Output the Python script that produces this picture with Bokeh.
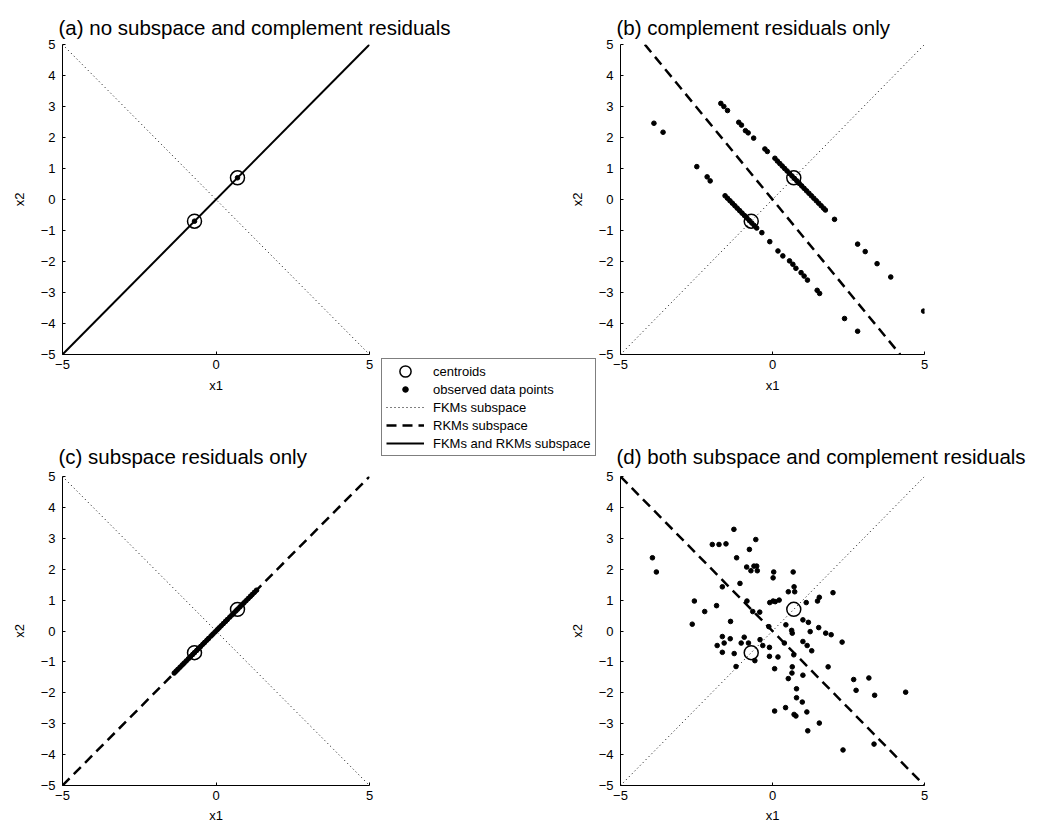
from bokeh.plotting import figure
from bokeh.models import FixedTicker, Range1d, Legend, LegendItem, GridBox
from bokeh.embed import file_html
from bokeh.resources import INLINE

FONT = "Liberation Sans"

# ---------------- data ----------------
y_ticks = [-5, -4, -3, -2, -1, 0, 1, 2, 3, 4, 5]
x_ticks = [-5, 0, 5]
tick_text = {-5: "\u22125", -4: "\u22124", -3: "\u22123", -2: "\u22122", -1: "\u22121",
             0: "0", 1: "1", 2: "2", 3: "3", 4: "4", 5: "5"}

titles = ["(a) no subspace and complement residuals",
          "(b) complement residuals only",
          "(c) subspace residuals only",
          "(d) both subspace and complement residuals"]

# centroids (same in all panels)
cent_x = [-0.7, 0.7]
cent_y = [-0.7, 0.7]

# subspace lines
diag_x = [-5, 5]
diag_y = [-5, 5]
anti_y = [5, -5]
rkm_b_x = [-4.2, 4.2]
rkm_b_y = [5, -5]

# (a) observed points coincide with centroids
obs_a_x = [-0.7, 0.7]
obs_a_y = [-0.7, 0.7]

# (b) complement residuals only
obs_b_x = [-1.70, -1.60, -1.48, -1.11, -1.02, -0.89, -0.80, -0.62, -0.25, -0.17,
           0.08, 0.16, 0.24, 0.32, 0.40, 0.48, 0.56, 0.64, 0.72, 0.80, 0.88, 0.96,
           1.04, 1.12, 1.20, 1.28, 1.36, 1.44, 1.52, 1.60, 1.68, 1.74, 2.04,
           2.80, 3.05, 3.44, 3.89, 4.97,
           -3.90, -3.60, -2.49, -2.15, -2.05,
           -1.56, -1.48, -1.40, -1.32, -1.24, -1.16, -1.08, -1.00, -0.92, -0.84,
           -0.76, -0.68, -0.60, -0.52, -0.35, -0.09, 0.18, 0.34, 0.56, 0.67, 0.77,
           0.94, 1.04, 1.15, 1.47, 1.55, 2.37, 2.80]
obs_b_y = [3.10, 3.00, 2.87, 2.49, 2.40, 2.22, 2.15, 1.98, 1.63, 1.55,
           1.33, 1.24, 1.16, 1.08, 1.00, 0.92, 0.84, 0.76, 0.68, 0.60, 0.52, 0.44,
           0.36, 0.28, 0.20, 0.12, 0.04, -0.04, -0.12, -0.20, -0.28, -0.34, -0.64,
           -1.44, -1.68, -2.07, -2.50, -3.60,
           2.46, 2.17, 1.06, 0.73, 0.60,
           0.12, 0.04, -0.04, -0.12, -0.20, -0.28, -0.36, -0.44, -0.52, -0.60,
           -0.68, -0.76, -0.84, -0.92, -1.07, -1.36, -1.66, -1.82, -1.98, -2.09, -2.22,
           -2.36, -2.47, -2.60, -2.93, -3.03, -3.84, -4.25]

# (c) subspace residuals only: points on the x1 = x2 line
obs_c_x = [-1.36, -1.30, -1.24, -1.17, -1.10, -1.04, -0.97, -0.90, -0.83, -0.76,
           -0.70, -0.63, -0.57, -0.50, -0.43, -0.37, -0.30, -0.24, -0.16, -0.10,
           -0.03, 0.04, 0.10, 0.17, 0.24, 0.31, 0.37, 0.45, 0.52, 0.58, 0.65,
           0.71, 0.78, 0.85, 0.91, 0.98, 1.05, 1.12, 1.18, 1.25, 1.32]
obs_c_y = [-1.36, -1.30, -1.24, -1.17, -1.10, -1.04, -0.97, -0.90, -0.83, -0.76,
           -0.70, -0.63, -0.57, -0.50, -0.43, -0.37, -0.30, -0.24, -0.16, -0.10,
           -0.03, 0.04, 0.10, 0.17, 0.24, 0.31, 0.37, 0.45, 0.52, 0.58, 0.65,
           0.71, 0.78, 0.85, 0.91, 0.98, 1.05, 1.12, 1.18, 1.25, 1.32]

# (d) both subspace and complement residuals
obs_d_x = [-3.95, -3.82, -2.64, -2.57, -2.23, -1.98, -1.76, -1.53, -1.84, -1.65,
           -1.82, -1.65, -1.59, -1.65, -1.39, -1.38, -1.27, -1.18, -1.26, -1.20,
           -1.07, -1.03, -0.93, -0.84, -0.85, -0.76, -0.71, -0.79, -0.65, -0.61,
           -0.55, -0.52, -0.50, -0.58, -0.42, -0.41, -0.32, -0.12, -0.10, -0.10,
           -0.09, 0.02, 0.04, 0.02, 0.09, 0.07, 0.18, 0.22, 0.07, 0.39,
           0.44, 0.43, 0.52, 0.52, 0.63, 0.65, 0.64, 0.65, 0.68, 0.71,
           0.73, 0.70, 0.79, 0.79, 0.71, 0.77, 1.00, 1.00, 1.00, 0.98,
           1.11, 1.14, 1.18, 1.13, 1.16, 1.24, 1.29, 1.48, 1.54, 1.52,
           1.54, 1.75, 1.83, 1.93, 1.99, 2.29, 2.32, 2.67, 2.75, 3.17,
           3.36, 3.34, 4.38]
obs_d_y = [2.37, 1.91, 0.22, 0.97, 0.63, 2.80, 2.80, 2.82, 0.82, 1.43,
           -0.47, -0.18, -0.39, -0.69, -0.25, 0.31, 3.29, 2.37, -0.73, -1.15,
           1.54, -0.39, -0.20, 0.97, 2.07, 2.64, 1.95, -0.39, 0.63, 2.10,
           2.96, 2.10, 1.95, -0.96, 0.61, -0.28, -0.47, 0.14, -0.53, -0.82,
           0.92, 0.97, 1.91, 1.72, 0.95, -1.22, -0.84, 1.00, -2.59, -0.39,
           0.20, -2.48, -1.54, 1.27, 0.02, -0.07, -1.36, -1.16, 1.91, 1.43,
           1.27, -0.77, -1.87, -2.16, -2.70, -2.75, 0.36, -0.34, -1.43, -2.30,
           0.92, -0.47, 0.28, -2.62, -3.23, -0.02, -0.64, 0.97, 1.09, 0.11,
           -2.98, -0.07, -1.16, -0.12, 1.24, -0.36, -3.85, -1.57, -1.92, -1.52,
           -2.08, -3.66, -1.98]

legend_labels = ["centroids", "observed data points", "FKMs subspace",
                 "RKMs subspace", "FKMs and RKMs subspace"]

# ---------------- styles ----------------
DOT = dict(line_color="black", line_width=1, line_dash="1 3")
DASH = dict(line_color="black", line_width=2.5, line_dash="10 6")
SOLID = dict(line_color="black", line_width=2)
CENT = dict(width=14, height=14, width_units="screen", height_units="screen",
            fill_color=None, line_color="black", line_width=1.5)
PTS = dict(size=4.6, marker="circle", fill_color="black", line_color="black")

# grid tracks (px): first track is the 8px page margin
COLS = [8, 367, 191, 34, 439]
ROWS = [8, 347, 77, 34, 360]
LEFT_W = COLS[1] + COLS[2]
RIGHT_W = COLS[3] + COLS[4]
TOP_H = ROWS[1] + ROWS[2]
BOT_H = ROWS[3] + ROWS[4]


def panel(title, width, height, bl, br, bt, bb, title_standoff, xlab_standoff):
    p = figure(width=width, height=height, x_range=Range1d(-5, 5), y_range=Range1d(-5, 5),
               output_backend="svg", toolbar_location=None,
               min_border_left=bl, min_border_right=br,
               min_border_top=bt, min_border_bottom=bb)
    p.title.text = title
    p.title.align = "left"
    p.title.offset = -4
    p.title.text_font = FONT
    p.title.text_font_size = "20.5px"
    p.title.text_font_style = "normal"
    p.title.text_color = "black"
    p.title.standoff = title_standoff
    p.grid.visible = False
    p.outline_line_color = None
    p.background_fill_color = "white"
    p.border_fill_color = "white"
    for ax, ticks, lab, st, ls in ((p.xaxis[0], x_ticks, "x1", xlab_standoff, 5),
                                   (p.yaxis[0], y_ticks, "x2", 11, 7)):
        ax.ticker = FixedTicker(ticks=ticks)
        ax.major_label_overrides = {t: tick_text[t] for t in ticks}
        ax.minor_tick_line_color = None
        ax.major_tick_in = 3
        ax.major_tick_out = 0
        ax.major_tick_line_color = "black"
        ax.axis_line_color = "black"
        ax.axis_line_width = 1
        ax.major_label_standoff = ls
        ax.major_label_text_font = FONT
        ax.major_label_text_font_size = "13px"
        ax.major_label_text_color = "black"
        ax.axis_label = lab
        ax.axis_label_text_font = FONT
        ax.axis_label_text_font_size = "13px"
        ax.axis_label_text_font_style = "normal"
        ax.axis_label_text_color = "black"
        ax.axis_label_standoff = st
    return p


pa = panel(titles[0], LEFT_W, TOP_H, 51, LEFT_W - 51 - 310, 35, TOP_H - 35 - 311, 11, 6)
pa.line(diag_x, anti_y, **DOT)
pa.line(diag_x, diag_y, **SOLID)
pa.scatter(obs_a_x, obs_a_y, **PTS)
pa.ellipse(cent_x, cent_y, **CENT)

pb = panel(titles[1], RIGHT_W, TOP_H, 48, RIGHT_W - 48 - 310, 35, TOP_H - 35 - 311, 11, 6)
pb.line(diag_x, diag_y, **DOT)
pb.line(rkm_b_x, rkm_b_y, **DASH)
pb.scatter(obs_b_x, obs_b_y, **PTS)
pb.ellipse(cent_x, cent_y, **CENT)

pc = panel(titles[2], LEFT_W, BOT_H, 51, LEFT_W - 51 - 310, 44, BOT_H - 44 - 309, 18, 5)
pc.line(diag_x, anti_y, **DOT)
pc.line(diag_x, diag_y, **DASH)
pc.scatter(obs_c_x, obs_c_y, **PTS)
pc.ellipse(cent_x, cent_y, **CENT)

pd = panel(titles[3], RIGHT_W, BOT_H, 48, RIGHT_W - 48 - 310, 44, BOT_H - 44 - 309, 18, 5)
pd.line(diag_x, diag_y, **DOT)
pd.line(diag_x, anti_y, **DASH)
pd.scatter(obs_d_x, obs_d_y, **PTS)
pd.ellipse(cent_x, cent_y, **CENT)

# ---------------- legend (floating between the panels) ----------------
lf = figure(width=COLS[2] + COLS[3], height=ROWS[2] + ROWS[3],
            x_range=Range1d(100, 101), y_range=Range1d(100, 101),
            output_backend="svg", toolbar_location=None,
            x_axis_type=None, y_axis_type=None, min_border=0)
lf.outline_line_color = None
lf.grid.visible = False
lf.background_fill_alpha = 0
lf.border_fill_alpha = 0
r_cent = lf.ellipse(cent_x, cent_y, **CENT)
r_pts = lf.scatter(obs_a_x, obs_a_y, **PTS)
r_fkm = lf.line(diag_x, diag_y, **DOT)
r_rkm = lf.line(diag_x, anti_y, **DASH)
r_both = lf.line(diag_x, diag_y, **SOLID)

legend = Legend(items=[LegendItem(label=lab, renderers=[r]) for lab, r in
                       zip(legend_labels, [r_cent, r_pts, r_fkm, r_rkm, r_both])],
                location=(6, 10), orientation="vertical")
legend.border_line_color = "black"
legend.border_line_width = 1
legend.background_fill_color = "white"
legend.background_fill_alpha = 1
legend.padding = 4
legend.margin = 0
legend.spacing = 2
legend.glyph_width = 38
legend.glyph_height = 14
legend.label_height = 16
legend.label_standoff = 9
legend.label_text_font = FONT
legend.label_text_font_size = "13px"
legend.label_text_color = "black"
lf.add_layout(legend)

layout = GridBox(
    children=[(pa, 1, 1, 2, 2), (pb, 1, 3, 2, 2), (pc, 3, 1, 2, 2), (pd, 3, 3, 2, 2),
              (lf, 2, 2, 2, 2)],
    cols=[f"{c}px" for c in COLS],
    rows=[f"{r}px" for r in ROWS],
    spacing=0,
)

open("out.html", "w").write(file_html(layout, INLINE))
